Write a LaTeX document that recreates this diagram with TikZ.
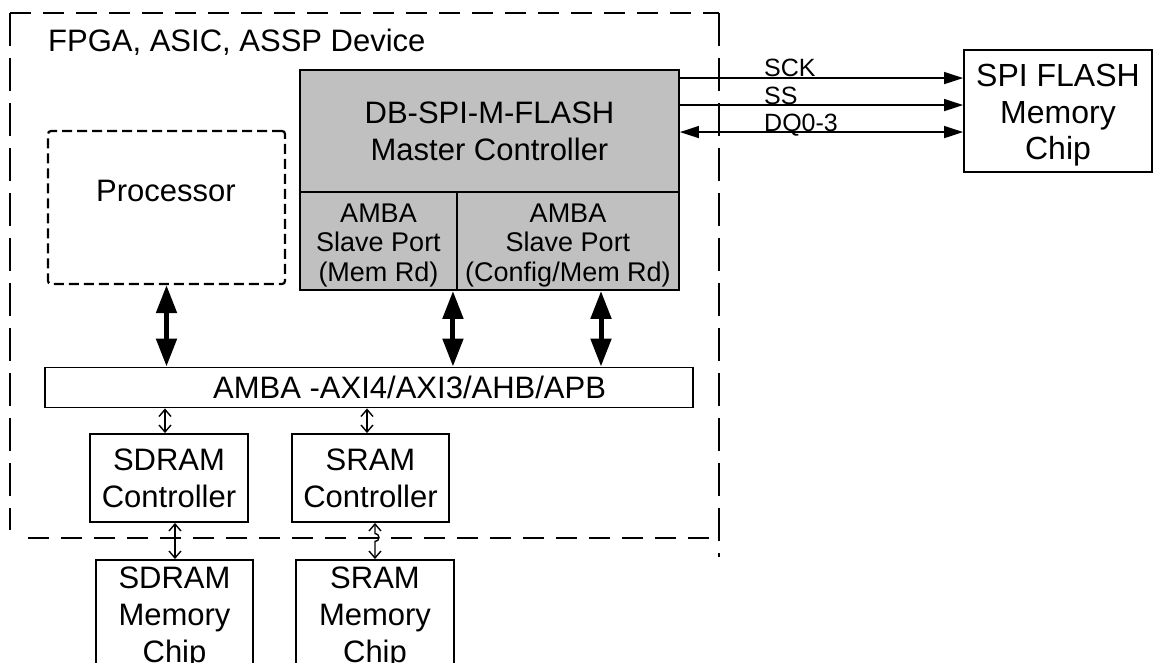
\documentclass[tikz,border=0pt]{standalone}
\usepackage{fontspec}
\setmainfont{Liberation Sans}
\usetikzlibrary{arrows.meta}
\definecolor{boxgray}{HTML}{C0C0C0}
\newcommand\bigtxt{\fontsize{31}{37}\selectfont}
\newcommand\spitxt{\fontsize{32}{36.5}\selectfont}
\newcommand\midtxt{\fontsize{27}{29.5}\selectfont}
\newcommand\smltxt{\fontsize{25}{27}\selectfont}
\begin{document}
\begin{tikzpicture}[x=1pt,y=-1pt,
  blk/.style={draw, line width=1.9pt, rectangle, align=center, inner sep=0pt, font=\bigtxt},
  graybox/.style={blk, fill=boxgray},
  txt/.style={align=center, inner sep=0pt, font=\bigtxt},
  procbox/.style={draw, line width=2.2pt, dash pattern=on 10pt off 5pt, rectangle, rounded corners=3pt, inner sep=0pt},
  hdash/.style={line width=2.8pt, dash pattern=on 21pt off 12pt},
  vdash/.style={line width=2.8pt, dash pattern=on 33pt off 12pt},
  fatarrow/.style={line width=5pt, {Triangle[length=28pt,width=20pt]}-{Triangle[length=28pt,width=20pt]}},
  thinarrow/.style={line width=1.4pt, {Straight Barb[length=7pt,width=12pt]}-{Straight Barb[length=7pt,width=12pt]}},
  sigarrow/.style={line width=1.8pt, -{Triangle[length=19pt,width=12pt]}},
  bisigarrow/.style={line width=1.8pt, {Triangle[length=19pt,width=12pt]}-{Triangle[length=19pt,width=12pt]}},
  siglbl/.style={anchor=base west, inner sep=0pt, font=\smltxt}
]
\useasboundingbox (0,0) rectangle (1154,663);

% outer device boundary
\draw[hdash] (10,13) -- (719,13);
\draw[vdash] (10,13) -- (10,530);
\draw[vdash] (719,13) -- (719,557);
\draw[hdash] (28,538) -- (719,538);
\node[anchor=base west, inner sep=0pt, font=\bigtxt] (dev) at (48,52) {FPGA, ASIC, ASSP Device};

% processor
\node[procbox, minimum width=237pt, minimum height=153pt] (proc) at (166.5,207.5) {};
\node[anchor=base, inner sep=0pt, font=\bigtxt] (proclbl) at (166,202) {Processor};

% DB-SPI controller
\node[graybox, minimum width=379pt, minimum height=122pt] (dbtop) at (489.5,131) {DB-SPI-M-FLASH\\Master Controller};
\node[graybox, minimum width=157pt, minimum height=98pt] (port1) at (378.5,241) {};
\node[graybox, minimum width=222pt, minimum height=98pt] (port2) at (568,241) {};
\node[txt, font=\midtxt] (port1txt) at (378.5,245.5) {AMBA\\Slave Port\\(Mem Rd)};
\node[txt, font=\midtxt] (port2txt) at (568,245.5) {AMBA\\Slave Port\\(Config/Mem Rd)};

% bus
\node[blk, minimum width=648pt, minimum height=40pt] (bus) at (369,387.5) {};
\node[anchor=base west, inner sep=0pt, font=\bigtxt] (buslbl) at (213,398) {AMBA -AXI4/AXI3/AHB/APB};

% controllers
\node[blk, minimum width=158pt, minimum height=88pt] (sdc) at (169,478) {SDRAM\\Controller};
\node[blk, minimum width=157pt, minimum height=88pt] (src) at (370.5,478) {SRAM\\Controller};

% memory chips
\node[blk, minimum width=157pt, minimum height=116pt] (sdm) at (174.5,618) {};
\node[blk, minimum width=158pt, minimum height=116pt] (srm) at (375,618) {};
\node[txt] (sdmtxt) at (174.5,618) {SDRAM\\Memory\\Chip};
\node[txt] (srmtxt) at (375,618) {SRAM\\Memory\\Chip};

% SPI flash
\node[blk, minimum width=188pt, minimum height=122pt] (spi) at (1058,111) {};
\node[txt, font=\spitxt] (spitxt) at (1058,115.3) {SPI FLASH\\Memory\\Chip};

% thick bus arrows
\draw[fatarrow] (proc.south) -- (proc.south |- bus.north);
\draw[fatarrow] ([xshift=-5pt]port1.south east) -- ([xshift=-5pt]port1.south east |- bus.north);
\draw[fatarrow] ([xshift=33pt]port2.south) -- ([xshift=33pt]port2.south |- bus.north);

% thin arrows
\draw[thinarrow] ([xshift=-4pt]sdc.north |- bus.south) -- ([xshift=-4pt]sdc.north);
\draw[thinarrow] ([xshift=-3.5pt]src.north |- bus.south) -- ([xshift=-3.5pt]src.north);
\draw[thinarrow] ([xshift=6pt]sdc.south) -- ([xshift=6pt]sdc.south |- sdm.north);
\coordinate (hop) at (375,533.5);
\draw[thinarrow] ([xshift=4.5pt]src.south) -- (hop) arc[start angle=90, end angle=-90, radius=4pt] -- ([xshift=4.5pt]src.south |- srm.north);

% SPI signals
\draw[sigarrow] ([yshift=-9pt]dbtop.north east) -- ([yshift=-9pt]dbtop.north east -| spi.west);
\draw[sigarrow] ([yshift=-36pt]dbtop.north east) -- ([yshift=-36pt]dbtop.north east -| spi.west);
\draw[bisigarrow] ([yshift=-63pt]dbtop.north east) -- ([yshift=-63pt]dbtop.north east -| spi.west);
\node[siglbl] (sck) at (764,77) {SCK};
\node[siglbl] (ss) at (764,104.5) {SS};
\node[siglbl] (dq) at (764,132) {DQ0-3};
\end{tikzpicture}
\end{document}
